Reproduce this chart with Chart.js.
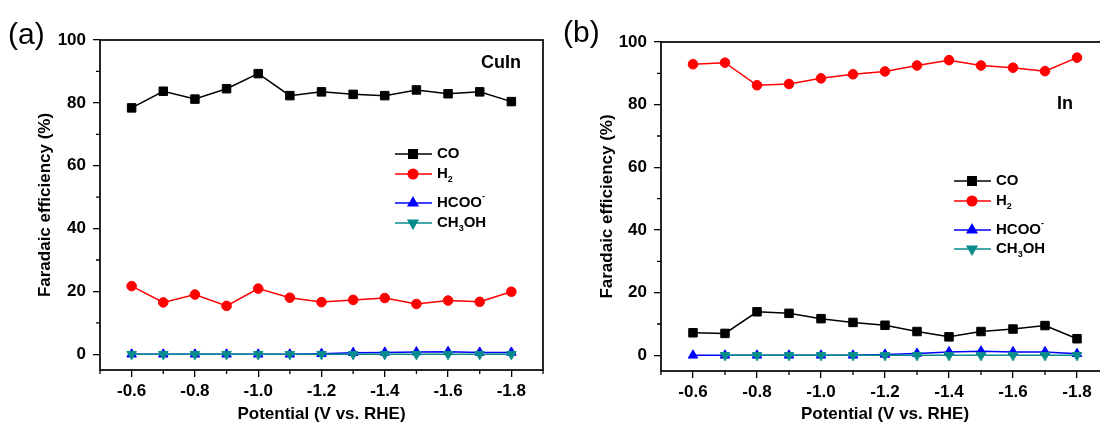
<!DOCTYPE html>
<html>
<head>
<meta charset="utf-8">
<script src="https://cdn.jsdelivr.net/npm/chart.js@4.4.0/dist/chart.umd.min.js"></script>
<style>
html, body { margin: 0; padding: 0; background: #fff; overflow: hidden; width: 1100px; height: 430px; }
.panel { position: absolute; top: 0; }
#panelA { left: 0; }
#panelB { left: 550px; }
</style>
</head>
<body>
<div class="panel" id="panelA"><canvas id="chartA" width="550" height="430"></canvas></div>
<div class="panel" id="panelB"><canvas id="chartB" width="570" height="430"></canvas></div>
<script>
// potentials (V vs. RHE)
const potentials = [-0.6, -0.7, -0.8, -0.9, -1.0, -1.1, -1.2, -1.3, -1.4, -1.5, -1.6, -1.7, -1.8];
const xTickValues = [-0.6, -0.8, -1.0, -1.2, -1.4, -1.6, -1.8];
const xMinorTicks = [-0.5, -0.7, -0.9, -1.1, -1.3, -1.5, -1.7, -1.9];
const yTickValues = [0, 20, 40, 60, 80, 100];
const yMinorTicks = [10, 30, 50, 70, 90];

// product labels ( _ = subscript, ^ = superscript )
const productLabels = ['CO', 'H_2', 'HCOO^-', 'CH_3OH'];

// (a) CuIn
const coCuIn = [78.4, 83.7, 81.2, 84.5, 89.3, 82.3, 83.5, 82.7, 82.3, 84.1, 82.9, 83.5, 80.4];
const h2CuIn = [21.7, 16.5, 19.0, 15.4, 20.9, 18.0, 16.6, 17.3, 17.9, 16.0, 17.1, 16.7, 19.9];
const hcooCuIn = [0, 0, 0, 0, 0, 0, 0.2, 0.5, 0.6, 0.7, 0.8, 0.6, 0.6];
const ch3ohCuIn = [0, 0, 0, 0, 0, 0, 0, 0, 0, 0, 0, 0, 0];

// (b) In
const coIn = [7.2, 7.0, 13.9, 13.4, 11.7, 10.5, 9.6, 7.6, 5.9, 7.6, 8.4, 9.5, 5.3];
const h2In = [92.9, 93.4, 86.2, 86.6, 88.4, 89.7, 90.6, 92.5, 94.2, 92.5, 91.8, 90.7, 95.0];
const hcooIn = [0, 0, 0, 0, 0, 0, 0.3, 0.6, 1.1, 1.3, 1.1, 1.1, 0.5];
const ch3ohIn = [null, 0, 0, 0, 0, 0, 0, 0, 0, 0, 0, 0, 0];

const FONT = '"Liberation Sans", Arial, sans-serif';

function toPoints(vals) {
    return potentials.map((p, i) => ({ x: p, y: vals[i] }));
}

// draws text with _x subscript and ^x superscript
function drawRich(ctx, text, x, y, size) {
    let cx = x;
    for (let i = 0; i < text.length; i++) {
        let ch = text[i];
        let dy = 0, s = size;
        if (ch === '_' || ch === '^') {
            dy = ch === '_' ? size * 0.38 : -size * 0.42;
            s = size * 0.6;
            i++;
            ch = text[i];
        }
        ctx.font = 'bold ' + s + 'px ' + FONT;
        ctx.fillText(ch, cx, y + dy);
        cx += ctx.measureText(ch).width;
    }
}

const decorPlugin = {
    id: 'decor',
    afterDraw(chart, args, opts) {
        const ctx = chart.ctx;
        const a = chart.chartArea;
        const xs = chart.scales.x;
        const ys = chart.scales.y;
        ctx.save();

        // frame
        ctx.strokeStyle = '#000';
        ctx.lineWidth = 1.7;
        ctx.strokeRect(a.left, a.top, a.right - a.left, a.bottom - a.top);

        // minor ticks
        ctx.lineWidth = 1.3;
        ctx.beginPath();
        xMinorTicks.forEach(v => {
            const px = xs.getPixelForValue(v);
            ctx.moveTo(px, a.bottom);
            ctx.lineTo(px, a.bottom + 4);
        });
        yMinorTicks.forEach(v => {
            const py = ys.getPixelForValue(v);
            ctx.moveTo(a.left, py);
            ctx.lineTo(a.left - 4, py);
        });
        ctx.stroke();

        // legend
        ctx.textBaseline = 'middle';
        ctx.textAlign = 'left';
        chart.data.datasets.forEach((ds, i) => {
            const y = opts.legendRows[i];
            const x0 = opts.legendX;
            ctx.strokeStyle = ds.borderColor;
            ctx.fillStyle = ds.backgroundColor;
            ctx.lineWidth = 1.5;
            ctx.beginPath();
            ctx.moveTo(x0, y);
            ctx.lineTo(x0 + 37, y);
            ctx.stroke();
            Chart.helpers.drawPoint(ctx, {
                pointStyle: ds.pointStyle,
                radius: ds.pointRadius,
                rotation: ds.pointRotation || 0,
                borderWidth: 1
            }, x0 + 18, y);
            ctx.fillStyle = '#000';
            drawRich(ctx, ds.label, x0 + 42, y, 15);
        });

        // panel tag and sample name
        ctx.fillStyle = '#000';
        ctx.font = '30px ' + FONT;
        ctx.textAlign = 'left';
        ctx.fillText(opts.tag, opts.tagX, opts.tagY);
        ctx.font = 'bold 18px ' + FONT;
        ctx.textAlign = 'right';
        ctx.fillText(opts.sample, opts.sampleX, opts.sampleY);
        ctx.restore();
    }
};

function makeChart(id, series, cfg) {
    const colors = ['#000000', '#ff0000', '#0000ff', '#088c8c'];
    const styles = ['rect', 'circle', 'triangle', 'triangle'];
    const radii = [6, 4.8, 5.5, 5.5];
    const datasets = series.map((vals, i) => ({
        label: productLabels[i],
        data: toPoints(vals),
        borderColor: colors[i],
        backgroundColor: colors[i],
        borderWidth: 1.5,
        pointStyle: styles[i],
        pointRadius: radii[i],
        pointRotation: i === 3 ? 180 : 0,
        pointBorderWidth: 1,
        order: i === 3 ? 0 : 1
    }));

    return new Chart(document.getElementById(id), {
        type: 'line',
        data: { datasets: datasets },
        plugins: [decorPlugin],
        options: {
            responsive: false,
            animation: false,
            layout: { padding: cfg.padding },
            plugins: {
                legend: { display: false },
                tooltip: { enabled: false },
                decor: cfg.decor
            },
            scales: {
                x: {
                    type: 'linear',
                    reverse: true,
                    min: -1.9,
                    max: -0.5,
                    afterBuildTicks: scale => { scale.ticks = xTickValues.map(v => ({ value: v })); },
                    afterFit: scale => { scale.height = cfg.xHeight; },
                    border: { display: false },
                    grid: { drawOnChartArea: false, color: '#000', lineWidth: 1.3, tickLength: 7 },
                    ticks: {
                        color: '#000',
                        padding: 4,
                        font: { family: FONT, size: 17, weight: 'bold' },
                        callback: v => v.toFixed(1)
                    },
                    title: {
                        display: true,
                        text: 'Potential (V vs. RHE)',
                        color: '#000',
                        padding: { top: 2, bottom: 5 },
                        font: { family: FONT, size: 17, weight: 'bold' }
                    }
                },
                y: {
                    min: -5,
                    max: 100,
                    afterBuildTicks: scale => { scale.ticks = yTickValues.map(v => ({ value: v })); },
                    afterFit: scale => { scale.width = cfg.yWidth; },
                    border: { display: false },
                    grid: { drawOnChartArea: false, color: '#000', lineWidth: 1.3, tickLength: 7 },
                    ticks: {
                        color: '#000',
                        padding: 7,
                        font: { family: FONT, size: 17, weight: 'bold' }
                    },
                    title: {
                        display: true,
                        text: 'Faradaic efficiency (%)',
                        color: '#000',
                        padding: { top: 4, bottom: 4 },
                        font: { family: FONT, size: 17, weight: 'bold' }
                    }
                }
            }
        }
    });
}

makeChart('chartA', [coCuIn, h2CuIn, hcooCuIn, ch3ohCuIn], {
    padding: { left: 31, top: 40, right: 6, bottom: 0 },
    yWidth: 69,
    xHeight: 60,
    decor: {
        legendX: 395, legendRows: [154, 174, 203, 223],
        tag: '(a)', tagX: 8, tagY: 36,
        sample: 'CuIn', sampleX: 521, sampleY: 63
    }
});

makeChart('chartB', [coIn, h2In, hcooIn, ch3ohIn], {
    padding: { left: 43, top: 42, right: 11, bottom: 0 },
    yWidth: 68,
    xHeight: 59,
    decor: {
        legendX: 404, legendRows: [181, 201, 230, 249],
        tag: '(b)', tagX: 13, tagY: 34,
        sample: 'In', sampleX: 523, sampleY: 104
    }
});
</script>
</body>
</html>
